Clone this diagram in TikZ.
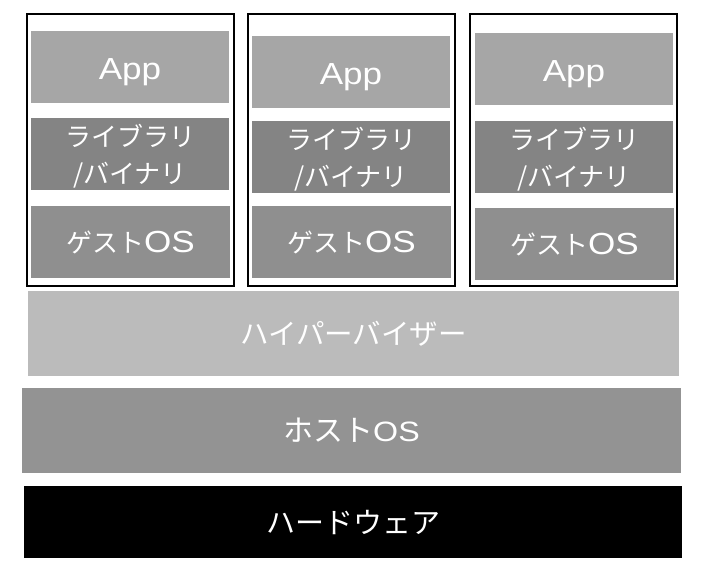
\documentclass[tikz,border=0pt]{standalone}
\usepackage{fontspec}
\usepackage{xcolor}
\usepackage{tikz}
\usetikzlibrary{positioning}
\newfontfamily\jpfont{Noto Sans CJK JP}
\newfontfamily\latfont[FakeStretch=1.15]{Liberation Sans}
\newcommand\lat[2]{{\latfont\fontsize{#1}{#1}\selectfont #2}}
\definecolor{AppGray}{HTML}{A6A6A6}
\definecolor{LibGray}{HTML}{848484}
\definecolor{GuestGray}{HTML}{8F8F8F}
\definecolor{HyperGray}{HTML}{BBBBBB}
\definecolor{HostGray}{HTML}{939393}
\tikzset{
  layer/.style={anchor=north west,inner sep=0pt,outer sep=0pt,align=center,
              text=white,font=\jpfont\fontsize{26}{37}\selectfont},
  appbox/.style={layer,fill=AppGray,minimum width=198pt,minimum height=72pt,
              text height=24pt,text depth=0pt},
  libbox/.style={layer,fill=LibGray,minimum width=198pt,minimum height=72pt,
              text height=63pt,text depth=4pt},
  guestbox/.style={layer,fill=GuestGray,minimum width=199pt,minimum height=72pt},
  vmframe/.style={draw=black,line width=1.6pt,anchor=north west,inner sep=0pt,
              minimum width=207pt,minimum height=272pt},
  hyperbox/.style={layer,fill=HyperGray,minimum width=651pt,minimum height=85pt,
              font=\jpfont\fontsize{28.5}{30}\selectfont},
  hostbox/.style={layer,fill=HostGray,minimum width=659pt,minimum height=85pt,
              font=\jpfont\fontsize{30}{30}\selectfont},
  hwbox/.style={layer,fill=black,minimum width=658pt,minimum height=72pt,
              font=\jpfont\fontsize{29}{30}\selectfont}
}
\begin{document}
\begin{tikzpicture}[x=1pt,y=-1pt]
  \useasboundingbox (0,0) rectangle (702,574);
  % virtual machines
  \node[vmframe] (vm1) at (26,13) {};
  \node[vmframe] (vm2) at (247,13) {};
  \node[vmframe] (vm3) at (469,13) {};
  \node[appbox] (app1) at (31,31) {\lat{30.5}{App}};
  \node[libbox] (lib1) at (31,118) {ライブラリ\\/バイナリ};
  \node[guestbox] (guest1) at (31,206) {ゲスト\lat{30.5}{OS}};
  \node[appbox] (app2) at (252,36) {\lat{30.5}{App}};
  \node[libbox] (lib2) at (252,121) {ライブラリ\\/バイナリ};
  \node[guestbox] (guest2) at (252,206) {ゲスト\lat{30.5}{OS}};
  \node[appbox] (app3) at (475,33) {\lat{30.5}{App}};
  \node[libbox] (lib3) at (475,121) {ライブラリ\\/バイナリ};
  \node[guestbox] (guest3) at (475,208) {ゲスト\lat{30.5}{OS}};
  % lower layers
  \node[hyperbox] (hyper) at (28,291) {ハイパーバイザー};
  \node[hostbox] (host) at (22,388) {ホスト\lat{28}{OS}};
  \node[hwbox] (hw) at (24,486) {ハードウェア};
\end{tikzpicture}
\end{document}
